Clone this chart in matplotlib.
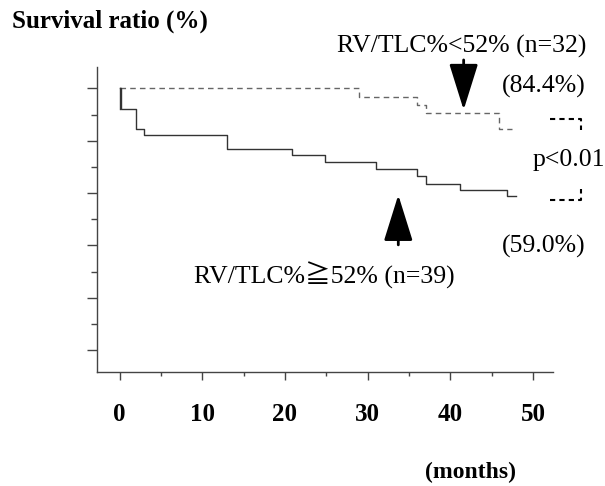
import matplotlib
matplotlib.use("Agg")
import matplotlib.pyplot as plt

# data (months, survival %)
low_t = [0, 29.0, 36.0, 37.0, 45.9, 47.5]
low_s = [100, 96.9, 93.8, 90.6, 84.4, 84.4]
high_t = [0, 0.15, 2.0, 3.0, 13.0, 20.9, 24.9, 31.0, 36.0, 37.0, 41.1, 46.9, 47.9]
high_s = [100, 92.3, 84.6, 82.1, 76.9, 74.4, 71.8, 69.2, 66.7, 63.3, 61.2, 59.0, 59.0]
xticks = [0, 10, 20, 30, 40, 50]

serif = ["Liberation Serif", "DejaVu Serif", "Noto Sans CJK JP"]
plt.rcParams["font.family"] = serif

W, H = 605, 486
fig = plt.figure(figsize=(W / 100, H / 100), dpi=100)
ax = fig.add_axes([97 / W, 1 - 372 / H, (553 - 97) / W, (372 - 67) / H])

ax.step(low_t, low_s, where="post", color="#666666", lw=1.0, ls=(0, (4, 3)))
ax.step(high_t, high_s, where="post", color="#333333", lw=1.0)
ax.plot([0, 0], [100, high_s[1]], color="#333333", lw=1.0)

ax.set_xlim(-2.72, 52.4)
ax.set_ylim(-8.4, 108.2)
for s in ("top", "right"):
    ax.spines[s].set_visible(False)
for s in ("left", "bottom"):
    ax.spines[s].set_color("#444444")
    ax.spines[s].set_linewidth(1.0)

ax.set_xticks(xticks)
ax.set_xticks(range(5, 55, 10), minor=True)
ax.set_xticklabels([str(v) for v in xticks], fontsize=18, fontweight="bold")
ax.tick_params(axis="x", which="major", length=6, width=1, pad=16, color="#444444")
ax.tick_params(axis="x", which="minor", length=3, width=1, color="#444444")
ax.set_yticks(range(0, 101, 20))
ax.set_yticks(range(10, 100, 20), minor=True)
ax.set_yticklabels([])
ax.tick_params(axis="y", which="major", length=7, width=1, color="#444444")
ax.tick_params(axis="y", which="minor", length=4.5, width=1, color="#444444")


def px(x, y):
    return x / W, 1 - y / H


fs = 18.5
fig.text(*px(12, 21), "Survival ratio (%)", fontsize=18, fontweight="bold", va="center", ha="left")
fig.text(*px(470, 483), "(months)", fontsize=17, fontweight="bold", va="bottom", ha="center")
fig.text(*px(462, 46), "RV/TLC%<52% (n=32)", fontsize=fs, va="center", ha="center")
fig.text(*px(544, 86), "(84.4%)", fontsize=fs, va="center", ha="center")
fig.text(*px(569, 160), "p<0.01", fontsize=fs, va="center", ha="center")
fig.text(*px(544, 246), "(59.0%)", fontsize=fs, va="center", ha="center")
fig.text(*px(324, 275), "RV/TLC%\u226752% (n=39)", fontsize=fs, va="center", ha="center")

# arrows
arrow = dict(arrowstyle="-|>,head_length=1.6,head_width=0.5", lw=2,
             color="black", mutation_scale=18, shrinkA=0, shrinkB=0)
ax.annotate("", xy=(41.6, 91.8), xytext=(41.6, 110.9), annotation_clip=False, arrowprops=arrow)
ax.annotate("", xy=(33.7, 59.3), xytext=(33.7, 40.2), annotation_clip=False, arrowprops=arrow)

# p-value brackets
bx0, bx1 = 52.06, 55.8
ax.plot([bx0, bx1, bx1], [88.2, 88.2, 84.0], color="black", lw=1.5, ls=(0, (2.5, 2)), clip_on=False)
ax.plot([bx0, bx1, bx1], [57.4, 57.4, 61.5], color="black", lw=1.5, ls=(0, (2.5, 2)), clip_on=False)

fig.savefig("out.png", dpi=100)
